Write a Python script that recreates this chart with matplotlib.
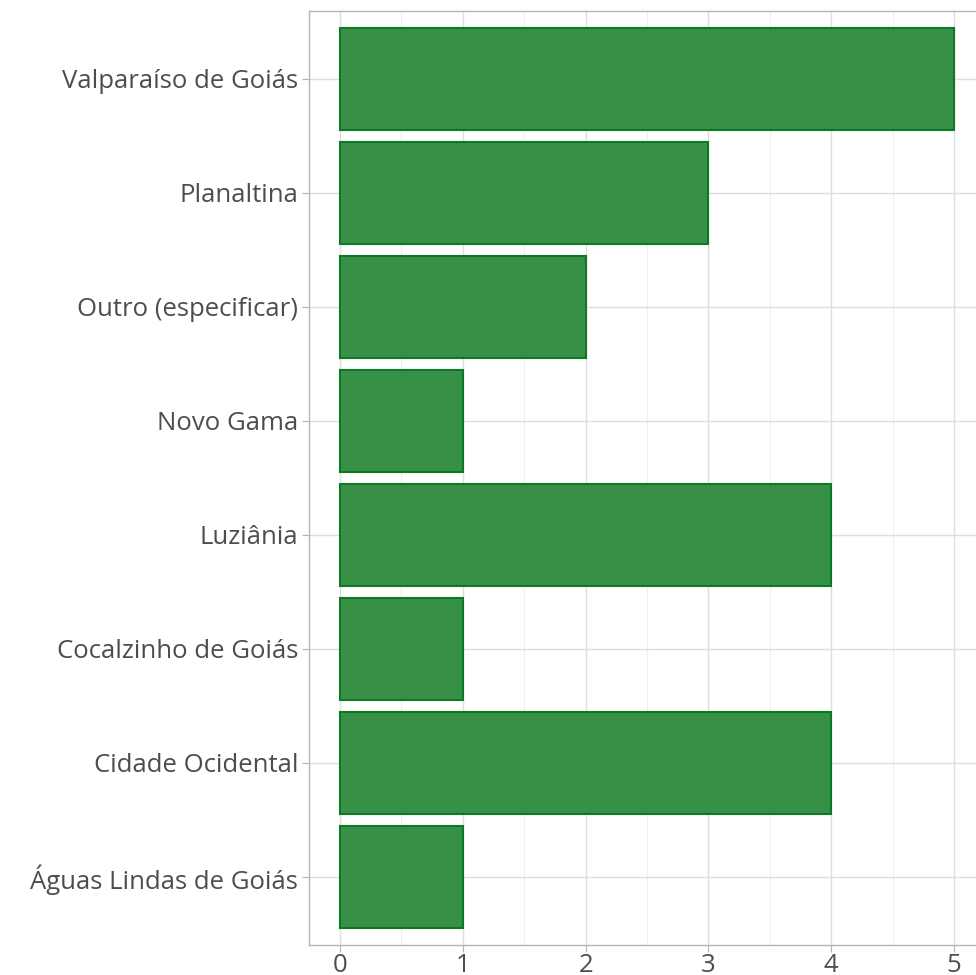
import matplotlib.pyplot as plt
import numpy as np

municipios = ['Águas Lindas de Goiás', 'Cidade Ocidental', 'Cocalzinho de Goiás',
              'Luziânia', 'Novo Gama', 'Outro (especificar)', 'Planaltina',
              'Valparaíso de Goiás']
contagem = [1, 4, 1, 4, 1, 2, 3, 5]

plt.rcParams['font.family'] = ['Open Sans', 'DejaVu Sans']

fig = plt.figure(figsize=(9.76, 9.75), dpi=100)
ax = fig.add_axes([309.3 / 976, 1 - 945.4 / 975, (984.7 - 309.3) / 976, (945.4 - 10.6) / 975])

pos = np.arange(1, len(municipios) + 1)
ax.barh(pos, contagem, height=0.9, color='#379046', edgecolor='#0b7a24',
        linewidth=1.5, zorder=3)

ax.set_xlim(-0.25, 5.25)
ax.set_ylim(0.4, len(municipios) + 0.6)
ax.set_yticks(pos)
ax.set_yticklabels(municipios)
ax.set_xticks(range(0, 6))
ax.set_xticks(np.arange(0.5, 5.5, 1), minor=True)

ax.grid(which='major', color='#dedede', linewidth=1.0, zorder=0)
ax.grid(which='minor', axis='x', color='#efefef', linewidth=0.8, zorder=0)
ax.set_axisbelow(True)

for s in ax.spines.values():
    s.set_color('#b3b3b3')
    s.set_linewidth(1.0)

ax.tick_params(which='major', length=5, color='#b3b3b3', labelsize=18.5,
               labelcolor='#4d4d4d')
ax.tick_params(axis='y', pad=3)
ax.tick_params(axis='x', pad=0.5)
ax.tick_params(which='minor', length=0)

fig.savefig('out.png', dpi=100)
